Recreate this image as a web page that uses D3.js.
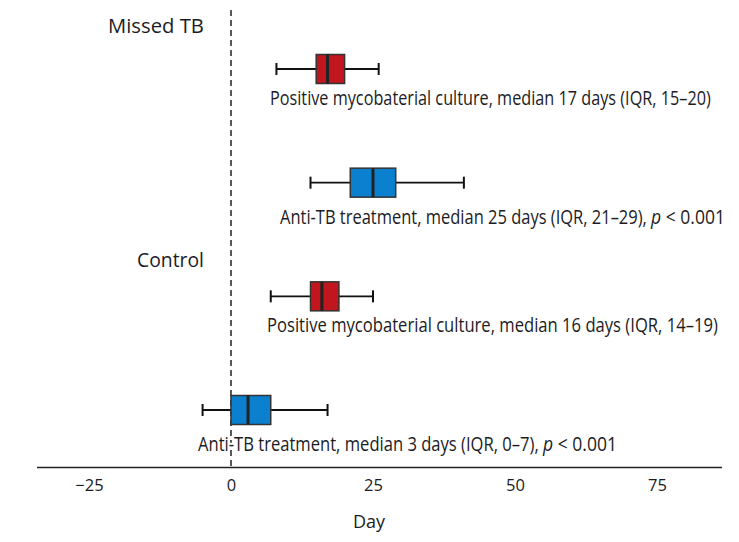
<!DOCTYPE html>
<html><head><meta charset="utf-8">
<script src="https://cdn.jsdelivr.net/npm/d3@7"></script>
<style>body{margin:0;background:#fff}svg{display:block}</style>
</head><body>
<script>
// Data
const rows = ["missed_culture","missed_treatment","control_culture","control_treatment"];
const whiskerLow  = [8, 14, 7, -5];
const q1          = [15, 21, 14, 0];
const median      = [17, 25, 16, 3];
const q3          = [20, 29, 19, 7];
const whiskerHigh = [26, 41, 25, 17];
const kinds       = ["culture","treatment","culture","treatment"];
const labelMain   = [
  "Positive mycobaterial culture, median 17 days (IQR, 15\u201320)",
  "Anti-TB treatment, median 25 days (IQR, 21\u201329),",
  "Positive mycobaterial culture, median 16 days (IQR, 14\u201319)",
  "Anti-TB treatment, median 3 days (IQR, 0\u20137),"
];
const labelP      = [null, "< 0.001", null, "< 0.001"];
const groups      = ["Missed TB", "Control"];
const tickValues  = [-25, 0, 25, 50, 75];
const xTitle      = "Day";

// layout
const W = 739, H = 542;
const labelX  = [270, 280, 267, 198];
const labelW  = [441, 367, 451, 341];
const pX      = [0, 651, 0, 543];
const pW      = [0, 74, 0, 74];
const labelDy = [36, 41, 36, 41];
const groupY  = [33, 267];
const groupW  = [96, 67];
const colors = {culture: "#c2161f", treatment: "#0a80cf"};

const svg = d3.select("body").append("svg").attr("width", W).attr("height", H);
const x = d3.scaleLinear().domain([-34.15, 86.44]).range([37, 722]);
const y = d3.scalePoint().domain(rows).range([69, 410]);
const axisY = 467.5;
const boxH = 29;
const font = "'Open Sans', 'Noto Sans', sans-serif";
const ink = "#1c1c24";

// horizontally squeeze a text to a target width using a transform
function fitText(sel, x0, y0, width) {
  const nat = sel.node().getComputedTextLength();
  const s = width / nat;
  sel.attr("x", 0).attr("y", 0).attr("transform", `translate(${x0},${y0}) scale(${s},1)`);
}

// dashed zero line
svg.append("line").attr("x1", x(0)).attr("x2", x(0)).attr("y1", 10).attr("y2", axisY)
  .attr("stroke", "#222").attr("stroke-width", 1.5).attr("stroke-dasharray", "6,4");

// axis
const axis = d3.axisBottom(x).tickValues(tickValues).tickSize(0).tickPadding(12)
  .tickFormat(d => d < 0 ? "\u2212" + Math.abs(d) : d);
const ag = svg.append("g").attr("transform", `translate(0,${axisY})`).call(axis);
ag.select(".domain").remove();
ag.selectAll("text").attr("font-family", font).attr("font-size", 16.5).attr("fill", ink);
svg.append("line").attr("x1", 37).attr("x2", 722).attr("y1", axisY).attr("y2", axisY)
  .attr("stroke", "#222").attr("stroke-width", 1.6);
svg.append("text").attr("x", x(25) - 4).attr("y", 528).attr("text-anchor", "middle")
  .attr("font-family", font).attr("font-size", 18).attr("fill", ink).text(xTitle);

// boxes
rows.forEach((r, i) => {
  const cy = y(r);
  const g = svg.append("g");
  g.append("line").attr("x1", x(whiskerLow[i])).attr("x2", x(whiskerHigh[i]))
    .attr("y1", cy).attr("y2", cy).attr("stroke", "#111").attr("stroke-width", 1.8);
  [whiskerLow[i], whiskerHigh[i]].forEach(v => {
    g.append("line").attr("x1", x(v)).attr("x2", x(v)).attr("y1", cy - 6).attr("y2", cy + 6)
      .attr("stroke", "#111").attr("stroke-width", 2);
  });
  g.append("rect").attr("x", x(q1[i])).attr("y", cy - boxH / 2)
    .attr("width", x(q3[i]) - x(q1[i])).attr("height", boxH)
    .attr("fill", colors[kinds[i]]).attr("stroke", "#333").attr("stroke-width", 1.5);
  g.append("line").attr("x1", x(median[i])).attr("x2", x(median[i]))
    .attr("y1", cy - boxH / 2).attr("y2", cy + boxH / 2).attr("stroke", "#222").attr("stroke-width", 3);

  const t = svg.append("text")
    .attr("font-family", font).attr("font-size", 19.5).attr("fill", ink)
    .attr("stroke", "#fff").attr("stroke-width", 4).attr("paint-order", "stroke")
    .text(labelMain[i]);
  fitText(t, labelX[i], cy + labelDy[i], labelW[i]);
  if (labelP[i]) {
    const tp = svg.append("text")
      .attr("font-family", font).attr("font-size", 19.5).attr("fill", ink);
    tp.append("tspan").attr("font-style", "italic").text("p");
    tp.append("tspan").text("\u00a0" + labelP[i]);
    fitText(tp, pX[i], cy + labelDy[i], pW[i]);
  }
});

// group labels
groups.forEach((gname, i) => {
  const t = svg.append("text")
    .attr("font-family", font).attr("font-size", 20.5).attr("fill", ink).text(gname);
  fitText(t, 204 - groupW[i], groupY[i], groupW[i]);
});
</script>
</body></html>
